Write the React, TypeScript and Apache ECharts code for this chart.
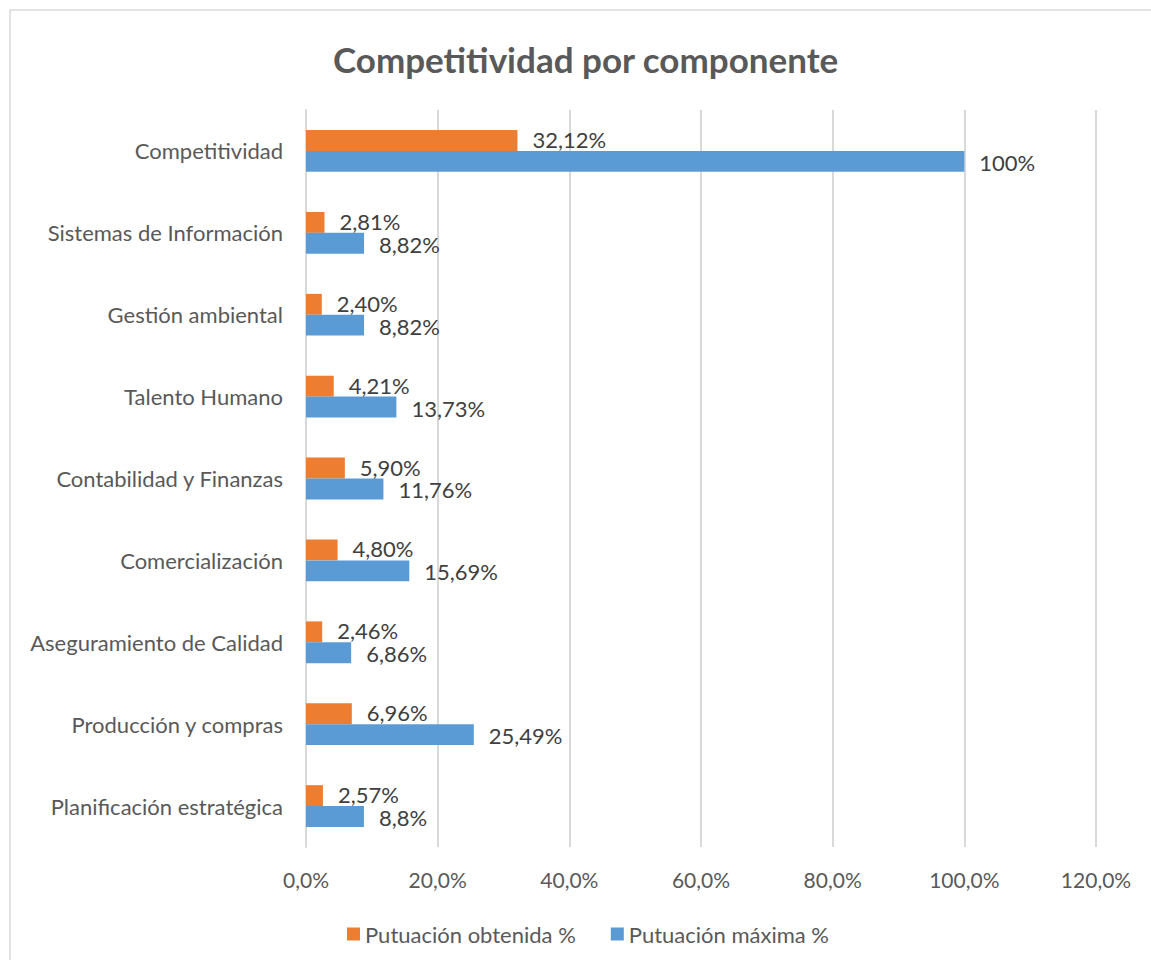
import React, { useEffect, useRef } from "react";
import * as echarts from "echarts";

const categories = [
  "Planificación estratégica",
  "Producción y compras",
  "Aseguramiento de Calidad",
  "Comercialización",
  "Contabilidad y Finanzas",
  "Talento Humano",
  "Gestión ambiental",
  "Sistemas de Información",
  "Competitividad",
];
const obtenida = [2.57, 6.96, 2.46, 4.8, 5.9, 4.21, 2.4, 2.81, 32.12];
const obtenidaLabels = ["2,57%", "6,96%", "2,46%", "4,80%", "5,90%", "4,21%", "2,40%", "2,81%", "32,12%"];
const maxima = [8.8, 25.49, 6.86, 15.69, 11.76, 13.73, 8.82, 8.82, 100];
const maximaLabels = ["8,8%", "25,49%", "6,86%", "15,69%", "11,76%", "13,73%", "8,82%", "8,82%", "100%"];
const seriesNames = ["Putuación obtenida %", "Putuación máxima %"];
const FONT = "Lato";

export default function App() {
  const ref = useRef<HTMLDivElement>(null);
  useEffect(() => {
    if (!ref.current) return;
    const chart = echarts.init(ref.current, null, { renderer: "svg" });
    const labelStyle = (labels: string[], dy: number) => ({
      show: true,
      position: "right",
      distance: 15,
      offset: [0, dy],
      fontFamily: FONT,
      fontSize: 22,
      lineHeight: 19,
      color: "#404040",
      formatter: (p: any) => labels[p.dataIndex],
    });
    chart.setOption({
      animation: false,
      textStyle: { fontFamily: FONT },
      title: {
        text: "Competitividad por componente",
        left: 328,
        top: 36,
        textStyle: { fontFamily: FONT, fontSize: 35, fontWeight: "bold", color: "#595959" },
      },
      graphic: [
        {
          type: "rect",
          shape: { x: 10, y: 10, width: 1300, height: 1100 },
          style: { fill: "none", stroke: "#D9D9D9", lineWidth: 1.5 },
          silent: true,
        },
      ],
      legend: {
        left: 342,
        top: 918,
        itemWidth: 13,
        itemHeight: 13,
        itemGap: 35,
        icon: "rect",
        textStyle: { fontFamily: FONT, fontSize: 22, color: "#595959" },
        data: seriesNames,
      },
      grid: { left: 306, right: 55, top: 110, bottom: 113, containLabel: false },
      xAxis: {
        type: "value",
        min: 0,
        max: 120,
        interval: 20,
        axisLine: { show: false },
        axisTick: { show: false },
        splitLine: { lineStyle: { color: "#D9D9D9", width: 2 } },
        axisLabel: {
          margin: 22,
          fontFamily: FONT,
          fontSize: 21,
          color: "#595959",
          formatter: (v: number) => v.toFixed(1).replace(".", ",") + "%",
        },
      },
      yAxis: {
        type: "category",
        data: categories,
        axisLine: { show: true, lineStyle: { color: "#D9D9D9", width: 2 } },
        axisTick: { show: false },
        axisLabel: { margin: 23, fontFamily: FONT, fontSize: 22, color: "#595959" },
      },
      series: [
        {
          name: seriesNames[0],
          type: "bar",
          data: obtenida,
          barGap: "0%",
          barCategoryGap: "49%",
          itemStyle: { color: "#ED7D31" },
          label: labelStyle(obtenidaLabels, -1),
        },
        {
          name: seriesNames[1],
          type: "bar",
          data: maxima,
          barGap: "0%",
          barCategoryGap: "49%",
          itemStyle: { color: "#5B9BD5" },
          label: labelStyle(maximaLabels, 1),
        },
      ],
    });
    return () => chart.dispose();
  }, []);
  return <div ref={ref} style={{ position: "absolute", left: 0, top: 0, width: 1151, height: 960 }} />;
}
